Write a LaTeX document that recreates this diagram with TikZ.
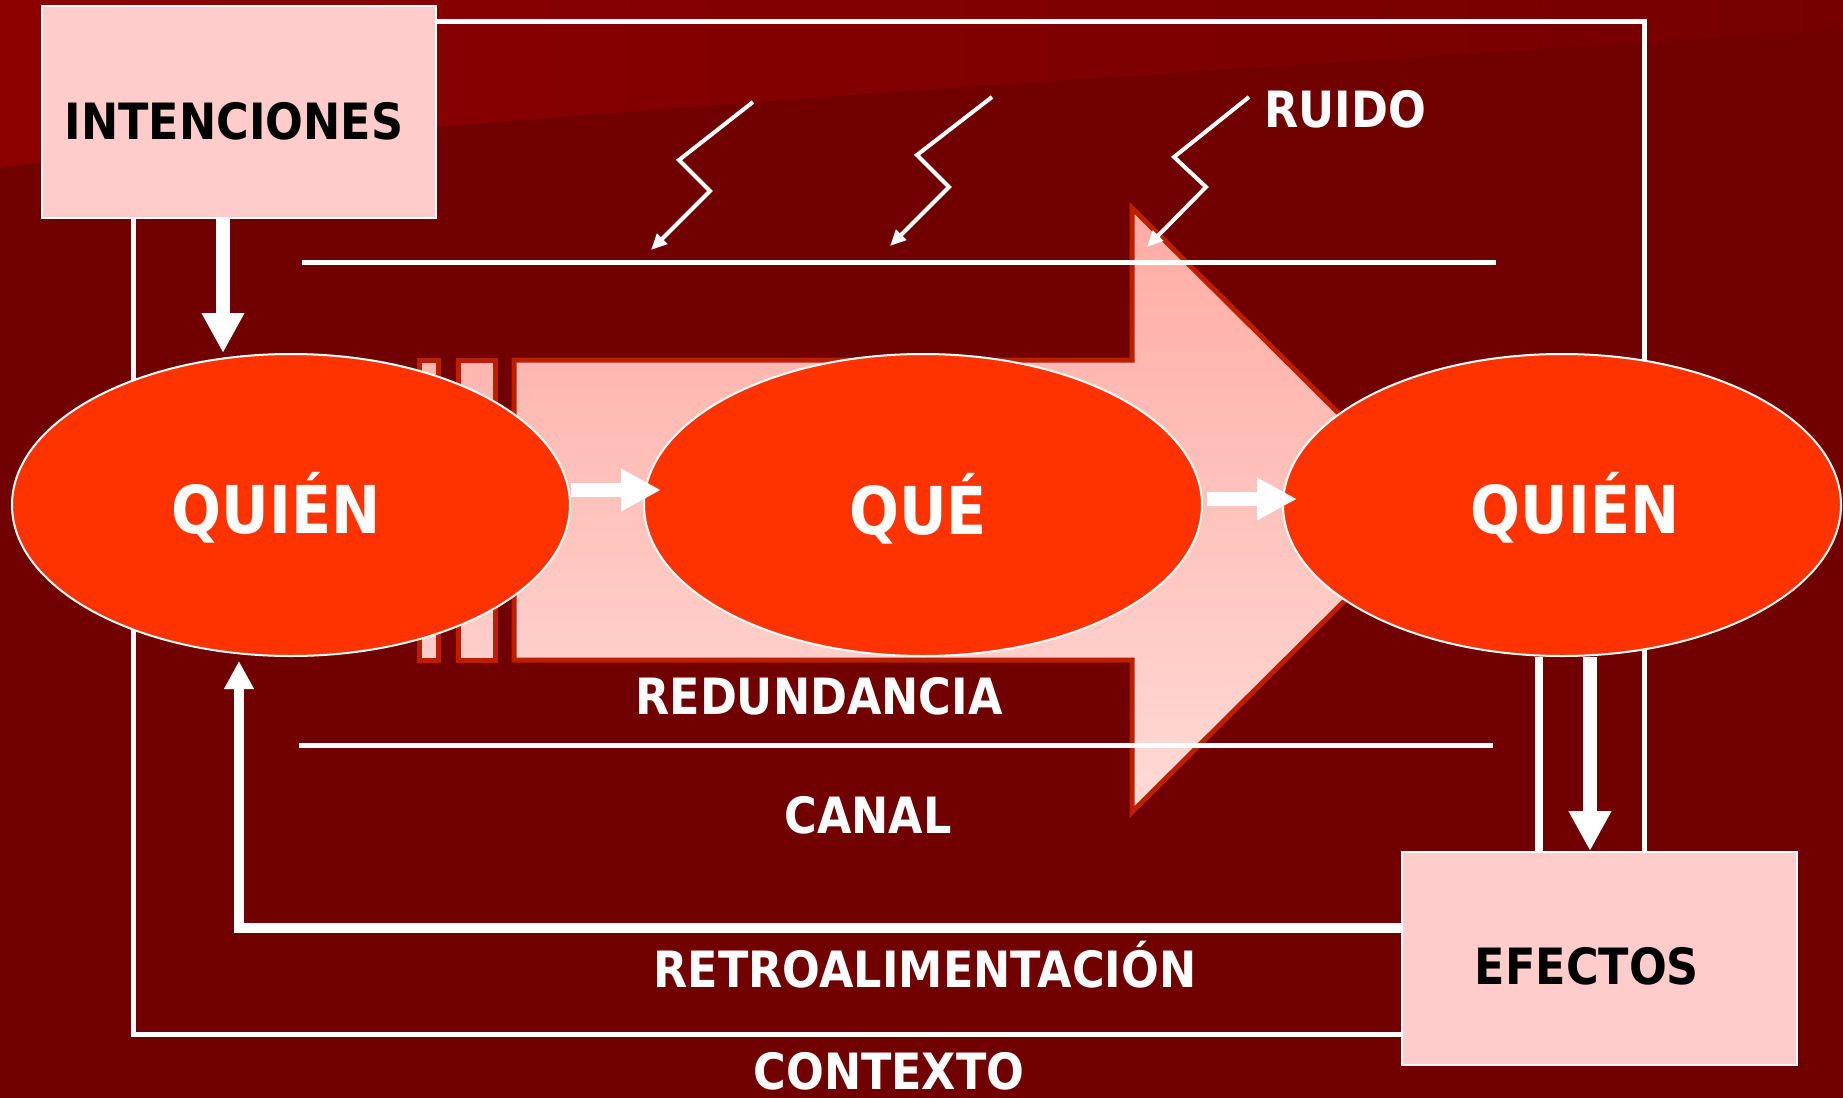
\documentclass[tikz,border=0pt]{standalone}
\usepackage{fontspec}
\newfontfamily\lbl[FakeStretch=0.89]{DejaVu Sans}
\usetikzlibrary{arrows.meta,shapes.geometric}
\definecolor{bgred}{RGB}{113,0,0}
\definecolor{bgtop}{RGB}{140,0,0}
\definecolor{bgtopr}{RGB}{118,0,0}
\definecolor{ovalred}{RGB}{255,51,0}
\definecolor{boxpink}{RGB}{255,204,204}
\definecolor{arrowedge}{RGB}{190,30,0}
\definecolor{pinktop}{RGB}{255,172,164}
\definecolor{pinkbot}{RGB}{255,218,214}
\definecolor{pinkmidtop}{RGB}{255,182,175}
\definecolor{pinkmidbot}{RGB}{255,206,201}
\begin{document}
\begin{tikzpicture}[x=0.5pt,y=-0.5pt,
  wline/.style={draw=white, line width=2.5pt},
  oval/.style={ellipse, draw=white, line width=1pt, fill=ovalred, minimum width=279pt, minimum height=151pt, inner sep=0pt},
  pbox/.style={rectangle, draw=white, line width=1pt, fill=boxpink, inner sep=0pt},
  wtext/.style={text=white, font=\lbl\bfseries\fontsize{25}{30}\selectfont, anchor=base, inner sep=0pt},
  btext/.style={text=black, font=\lbl\bfseries\fontsize{25}{30}\selectfont, anchor=base, inner sep=0pt},
  bigtext/.style={text=white, font=\lbl\bfseries\fontsize{33}{40}\selectfont, anchor=base, inner sep=0pt},
  flow/.style={draw=white, line width=7pt, -{Triangle[length=20pt,width=20pt]}},
  fback/.style={draw=white, line width=4.75pt, -{Triangle[length=14pt,width=14pt]}},
  bolt/.style={draw=white, line width=2pt, -{Triangle[length=8pt,width=7pt]}},
  bigarrow/.style={draw=arrowedge, line width=2.5pt, top color=pinktop, bottom color=pinkbot},
  stripe/.style={draw=arrowedge, line width=2.5pt, top color=pinkmidtop, bottom color=pinkmidbot}
]
\useasboundingbox (0,0) rectangle (1843,1098);
% background
\fill[bgred] (0,0) rectangle (1843,1098);
\shade[left color=bgtop, right color=bgtopr] (0,0) -- (1843,0) -- (1843,30) .. controls (1200,70) and (500,115) .. (0,167) -- cycle;
% big block arrow (channel)
\path[bigarrow] (514,360) -- (1132,360) -- (1132,208) -- (1436,510) -- (1132,812) -- (1132,660) -- (514,660) -- cycle;
\path[stripe] (419.5,360) rectangle (438.5,660);
\path[stripe] (458.5,360) rectangle (495.5,660);
% context frame
\draw[wline] (133,21) rectangle (1644,1034);
% noise lines
\draw[wline] (302,262) -- (1496,262);
\draw[wline] (299,745) -- (1493,745);
% noise bolts
\draw[bolt] (753,102) -- (679,160) -- (710,191) -- (651,250);
\draw[bolt] (992,97) -- (917,155) -- (949,187) -- (890,246);
\draw[bolt] (1249,97) -- (1174,157) -- (1206,187) -- (1147,247);
% nodes
\node[oval] (qa) at (291,505) {};
\node[oval] (qb) at (923,505) {};
\node[oval] (qc) at (1562,505) {};
\node[pbox, minimum width=197pt, minimum height=106pt] (int) at (239,112) {};
\node[pbox, minimum width=197.5pt, minimum height=106.5pt] (ef) at (1599.5,958.5) {};
% connectors
\coordinate (xi) at (223,0);
\coordinate (xe) at (1590,0);
\coordinate (xv) at (1539,0);
\coordinate (a1) at (661,490);
\coordinate (a2) at (1297,499);
\coordinate (fbc) at (239,928);
\draw[flow] (int.south -| xi) -- (qa.north -| xi);
\draw[flow] (qa.east |- a1) -- (a1);
\draw[flow] ([xshift=2pt]qb.east |- a2) -- (a2);
\draw[white, line width=4pt] (qc.south -| xv) -- (ef.north -| xv);
\draw[flow] (qc.south -| xe) -- (ef.north -| xe);
\draw[fback, shorten >=2pt] (ef.west |- fbc) -- (fbc) -- (qa.south -| fbc);
% texts
\node[btext] (tint) at (234,139) {INTENCIONES};
\node[btext] (tef) at (1587,984) {EFECTOS};
\node[wtext] (truido) at (1345,127) {RUIDO};
\node[bigtext] (tqa) at (276,533) {QUIÉN};
\node[bigtext] (tqb) at (918,534) {QUÉ};
\node[bigtext] (tqc) at (1575,533) {QUIÉN};
\node[wtext] (tred) at (819,714) {REDUNDANCIA};
\node[wtext] (tcan) at (868,833) {CANAL};
\node[wtext] (tret) at (925,987) {RETROALIMENTACIÓN};
\node[wtext] (tcon) at (889,1089) {CONTEXTO};
\end{tikzpicture}
\end{document}
